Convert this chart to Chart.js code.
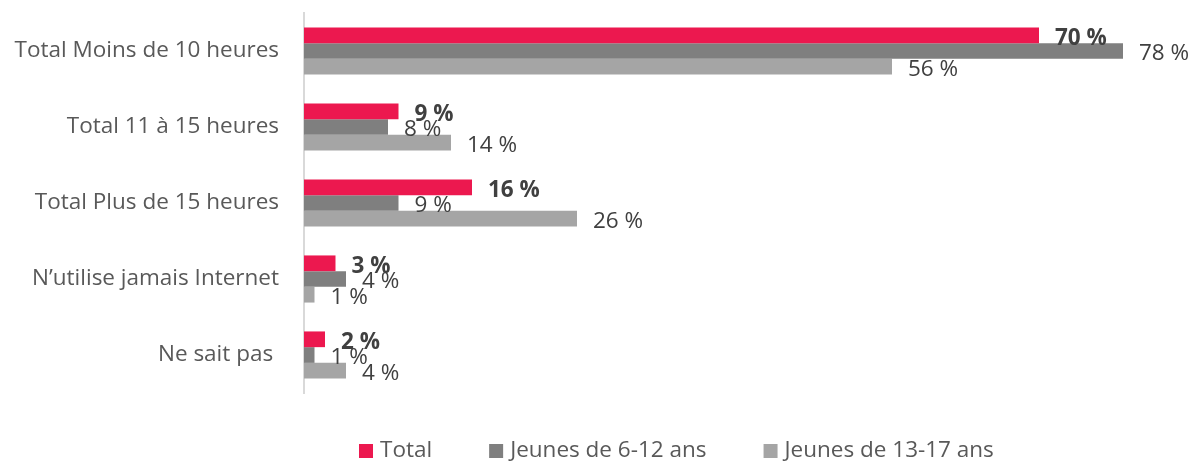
<!DOCTYPE html>
<html><head><meta charset="utf-8">
<script src="https://cdn.jsdelivr.net/npm/chart.js@4"></script>
<style>html,body{margin:0;padding:0;background:#fff}#wrap{width:1192px;height:462px;position:relative}</style>
</head><body><div id="wrap"><canvas id="c" width="1192" height="462"></canvas></div>
<script>
const categories = ["Total Moins de 10 heures", "Total 11 à 15 heures", "Total Plus de 15 heures", "N’utilise jamais Internet", "Ne sait pas "];
const totalValues = [70, 9, 16, 3, 2];
const jeunes612Values = [78, 8, 9, 4, 1];
const jeunes1317Values = [56, 14, 26, 1, 4];
const seriesNames = ["Total", "Jeunes de 6-12 ans", "Jeunes de 13-17 ans"];
const seriesColors = ["#EC184F", "#7F7F7F", "#A5A5A5"];
const FONT = "'Open Sans', 'Noto Sans', sans-serif";
const FS = 22.5;

const labelPlugin = {
  id: 'valueLabels',
  afterDatasetsDraw(chart) {
    const ctx = chart.ctx;
    ctx.save();
    ctx.textBaseline = 'middle';
    ctx.textAlign = 'left';
    [2, 1, 0].forEach(di => {
      const meta = chart.getDatasetMeta(di);
      const ds = chart.data.datasets[di];
      ctx.font = (di === 0 ? 'bold ' : '') + FS + 'px ' + FONT;
      ctx.fillStyle = '#404040';
      meta.data.forEach((el, i) => {
        ctx.fillText(ds.data[i] + ' %', el.x + 16, el.y + 3);
      });
    });
    ctx.restore();
  }
};

const legendPlugin = {
  id: 'bottomLegend',
  afterDraw(chart) {
    const ctx = chart.ctx;
    ctx.save();
    ctx.font = FS + 'px ' + FONT;
    ctx.textBaseline = 'middle';
    ctx.textAlign = 'left';
    let x = 359;
    const y = 451;
    chart.data.datasets.forEach(ds => {
      ctx.fillStyle = ds.backgroundColor;
      ctx.fillRect(x, y - 7, 14, 14);
      ctx.fillStyle = '#595959';
      ctx.fillText(ds.label, x + 21, y);
      x += 21 + ctx.measureText(ds.label).width + 57;
    });
    ctx.restore();
  }
};

new Chart(document.getElementById('c'), {
  type: 'bar',
  data: {
    labels: categories,
    datasets: [
      { label: seriesNames[0], data: totalValues, backgroundColor: seriesColors[0] },
      { label: seriesNames[1], data: jeunes612Values, backgroundColor: seriesColors[1] },
      { label: seriesNames[2], data: jeunes1317Values, backgroundColor: seriesColors[2] }
    ]
  },
  options: {
    indexAxis: 'y',
    responsive: false,
    animation: false,
    devicePixelRatio: 1,
    layout: { padding: { top: 13, right: 48, left: 0, bottom: 69 } },
    datasets: { bar: { barPercentage: 1, categoryPercentage: 0.62, borderWidth: 0 } },
    scales: {
      x: { display: false, min: 0, max: 80 },
      y: {
        afterFit(s) { s.width = 304; s.paddingTop = 0; s.paddingBottom = 0; },
        grid: { display: false, drawTicks: false },
        border: { display: true, color: '#D9D9D9', width: 2 },
        ticks: { padding: 25, color: '#595959', font: { family: FONT, size: FS } }
      }
    },
    plugins: {
      tooltip: { enabled: false },
      legend: { display: false }
    }
  },
  plugins: [labelPlugin, legendPlugin]
});
</script></body></html>
